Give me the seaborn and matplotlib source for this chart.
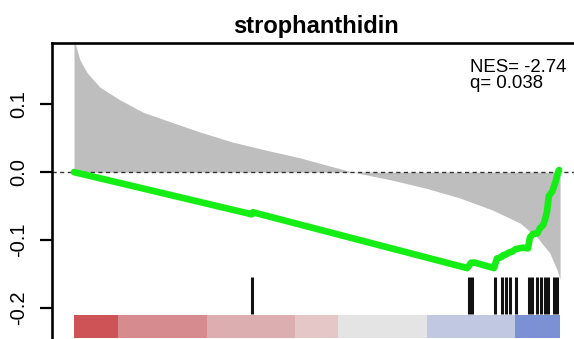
import numpy as np
import pandas as pd
import matplotlib
matplotlib.use("Agg")
import matplotlib.pyplot as plt
import seaborn as sns

# ---- data ----
title = "strophanthidin"
nes_text = "NES= -2.74\nq= 0.038"

# ranked-list metric (gray area)
metric_rank = [0, 2, 12, 27, 53, 95, 142, 198, 259, 327, 397, 465, 521, 574,
               656, 726, 794, 862, 918, 953, 979, 994, 1000]
metric_val = [0.26, 0.19, 0.165, 0.146, 0.125, 0.106, 0.088, 0.074, 0.059,
              0.044, 0.032, 0.021, 0.010, 0.0, -0.012, -0.024, -0.038,
              -0.056, -0.075, -0.096, -0.119, -0.144, -0.158]

# running enrichment score (green line)
es_rank = [0, 366, 368, 809, 817, 825, 864, 870, 879, 883, 889, 895, 901,
           909, 924, 934, 938, 944, 953, 959, 965, 969, 973, 977, 984, 990,
           996, 998]
es_val = [0.0, -0.062, -0.059, -0.141, -0.133, -0.133, -0.141, -0.127,
          -0.125, -0.122, -0.121, -0.118, -0.117, -0.113, -0.111, -0.112,
          -0.096, -0.091, -0.090, -0.082, -0.078, -0.070, -0.058, -0.035,
          -0.028, -0.016, 0.0, 0.003]

# gene-set hit positions
hit_rank = [366, 813, 819, 867, 880, 889, 898, 910, 937, 942, 953, 961,
            970, 976, 987, 993]

# colour bar segments
bar_edges = [0, 90.5, 273.7, 454.7, 543.2, 726.3, 907.4, 1000]
bar_colors = ["#cd5357", "#d68b8e", "#ddaeb0", "#e6c7c8", "#e4e4e4",
              "#c1c8e2", "#7b91d4"]

y_ticks = [-0.2, -0.1, 0.0, 0.1]
y_ticklabels = ["-0.2", "-0.1", "0.0", "0.1"]

# ---- plotting ----
sns.set_style("white")
plt.rcParams["font.family"] = ["Liberation Sans", "DejaVu Sans"]
plt.rcParams["text.color"] = "black"
plt.rcParams["ytick.color"] = "black"

fig = plt.figure(figsize=(5.74, 3.39), dpi=100)
ax = fig.add_axes([52 / 574, -0.0177, (580 - 52) / 574, 0.8908])

ax.fill_between(metric_rank, metric_val, 0, color="#bebebe", linewidth=0)
ax.axhline(0, color="#333333", lw=1.0, ls=(0, (3, 2.5)), zorder=2)

es_df = pd.DataFrame({"rank": es_rank, "es": es_val})
sns.lineplot(data=es_df, x="rank", y="es", sort=False, color="#14ee14",
             lw=4.8, ax=ax, zorder=4, solid_joinstyle="round",
             solid_capstyle="round")

ax.vlines(hit_rank, -0.154, -0.209, color="#111111", lw=2.2, zorder=3)

for i, c in enumerate(bar_colors):
    ax.fill_between([bar_edges[i], bar_edges[i + 1]], -0.2105, -0.243,
                    color=c, linewidth=0, zorder=3)

ax.set_xlim(-45.3, 1041)
ax.set_ylim(-0.254, 0.1897)
ax.set_yticks(y_ticks)
ax.set_yticklabels(y_ticklabels, rotation=90, va="center", fontsize=14.5,
                   color="black")
ax.set_xticks([])
ax.set_xlabel("")
ax.set_ylabel("")
ax.tick_params(axis="y", direction="out", length=9, width=1.6, pad=8,
               left=True, colors="black")
for s in ax.spines.values():
    s.set_linewidth(1.9)
    s.set_color("black")

fig.text(316 / 574, 1 - 26 / 339, title, ha="center", va="center",
         fontsize=17, fontweight="bold", color="black")
ax.text(0.791, 0.948, nes_text, transform=ax.transAxes, ha="left", va="top",
        fontsize=13.4, linespacing=0.92, color="black")
fig.savefig("out.png", dpi=100)
